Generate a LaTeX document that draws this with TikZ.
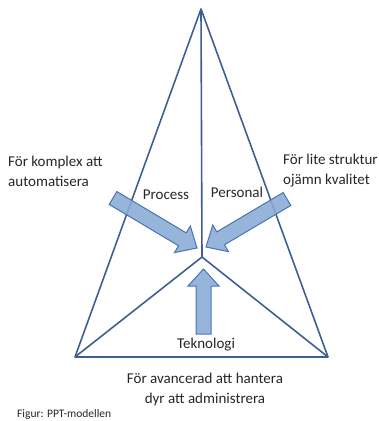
\documentclass[tikz,border=0pt]{standalone}
\usepackage{fontspec}
\setmainfont{Carlito}
\usetikzlibrary{calc}

\definecolor{pptline}{RGB}{62,96,145}
\definecolor{pptfill}{RGB}{137,170,214}
\definecolor{pptedge}{RGB}{72,116,175}

\tikzset{
  edge/.style={draw=pptline, line width=1.6pt, line join=round},
  blockarrow/.style={fill=pptfill, fill opacity=0.88, draw=pptedge, line width=1pt},
  txt/.style={inner sep=0pt, text=black!85, font=\fontsize{15}{20}\selectfont},
}

% block arrow from tail #1 to tip #2
\newcommand{\pptarrow}[2]{%
  \coordinate (#2base) at ($(#2)!17pt!(#1)$);
  \draw[blockarrow] ($(#1)!7.5pt!-90:(#2)$) -- ($(#2base)!7.5pt!90:(#1)$)
    -- ($(#2base)!15.5pt!90:(#1)$) -- (#2)
    -- ($(#2base)!15.5pt!-90:(#1)$) -- ($(#2base)!7.5pt!-90:(#1)$)
    -- ($(#1)!7.5pt!90:(#2)$) -- cycle;}

\begin{document}
\begin{tikzpicture}[x=1pt,y=-1pt]
  \useasboundingbox (0,0) rectangle (379,421);
  % corners of the pyramid
  \coordinate (top) at (201,9);
  \coordinate (left) at (75,357);
  \coordinate (right) at (328,357);
  \coordinate (mid) at (202,257);
  % outer lines
  \draw[edge] (left) -- (top) -- (right) -- cycle;
  % inner lines
  \draw[edge] (top) -- (mid);
  \draw[edge] (left) -- (mid) -- (right);
  % arrows
  \coordinate (procTail) at (113,198);
  \coordinate (procTip) at (197,248);
  \coordinate (persTail) at (287,199);
  \coordinate (persTip) at (206,247);
  \coordinate (teknTail) at (203.5,334);
  \coordinate (teknTip) at (203.5,269);
  \pptarrow{procTail}{procTip}
  \pptarrow{persTail}{persTip}
  \pptarrow{teknTail}{teknTip}
  % texts (base of a two-line node is its last line)
  \node[txt, anchor=base west, align=left] (komplex) at (8,186.5) {För komplex att\\automatisera};
  \node[txt, anchor=base west, align=left] (struktur) at (283,184.5) {För lite struktur\\ojämn kvalitet};
  \node[txt, anchor=base] (process) at (166,199) {Process};
  \node[txt, anchor=base] (personal) at (237,197) {Personal};
  \node[txt, anchor=base] (teknologi) at (206,348) {Teknologi};
  \node[txt, anchor=base, align=center] (hantera) at (205,403) {För avancerad att hantera\\dyr att administrera};
  \node[txt, anchor=base west, font=\fontsize{11.5}{14}\selectfont] (figur) at (17,417) {Figur: PPT-modellen};
\end{tikzpicture}
\end{document}
